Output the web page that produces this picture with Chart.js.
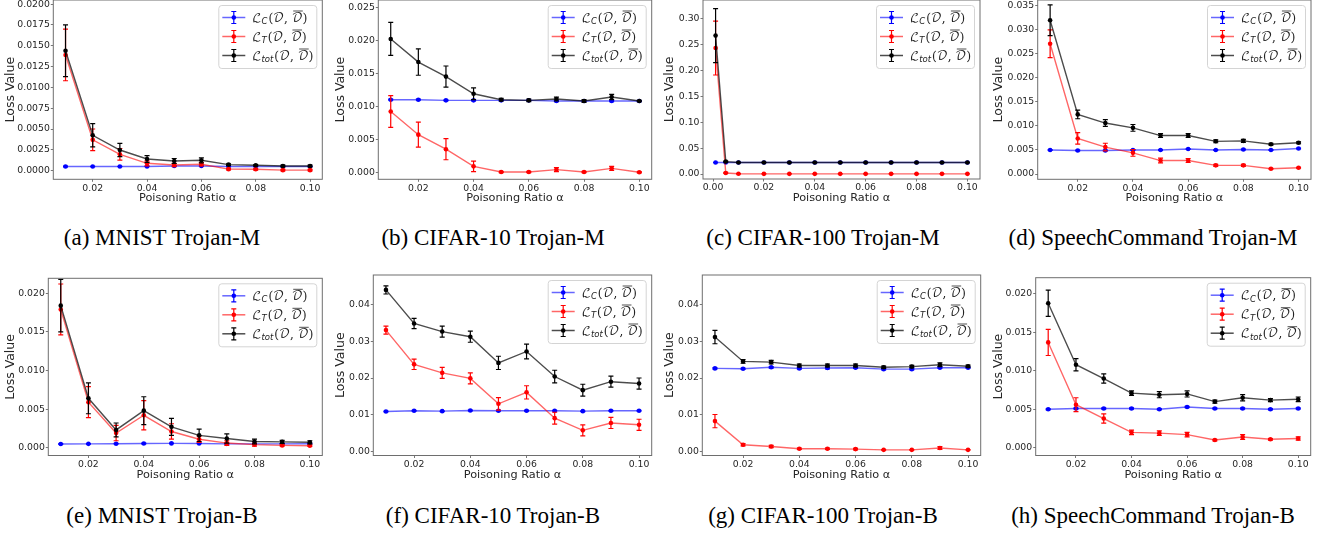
<!DOCTYPE html>
<html>
<head>
<meta charset="utf-8">
<script src="https://cdn.jsdelivr.net/npm/chart.js@4.4.1/dist/chart.umd.min.js"></script>
<style>
  html, body { margin: 0; padding: 0; background: #fff; }
  body { width: 1320px; height: 533px; position: relative; overflow: hidden; }
  canvas { position: absolute; }
  .cap {
    position: absolute;
    font-family: "Liberation Serif", "Times New Roman", serif;
    font-size: 23px;
    line-height: 1;
    white-space: nowrap;
    color: #000;
    transform: translate(-50%, -50%);
  }
</style>
</head>
<body>
<script>
// x values (poisoning ratio)
const ratios = [0.01, 0.02, 0.03, 0.04, 0.05, 0.06, 0.07, 0.08, 0.09, 0.10];
const ratiosC100 = [0.001, 0.005, 0.01, 0.02, 0.03, 0.04, 0.05, 0.06, 0.07, 0.08, 0.09, 0.10];

// tick labels
const xLabels = ["0.02", "0.04", "0.06", "0.08", "0.10"];
const xLabelsC100 = ["0.00", "0.02", "0.04", "0.06", "0.08", "0.10"];
const yLabelsMnistM = ["0.0000", "0.0025", "0.0050", "0.0075", "0.0100", "0.0125", "0.0150", "0.0175", "0.0200"];
const yLabelsC10M = ["0.000", "0.005", "0.010", "0.015", "0.020", "0.025"];
const yLabelsC100M = ["0.00", "0.05", "0.10", "0.15", "0.20", "0.25", "0.30"];
const yLabelsSpM = ["0.000", "0.005", "0.010", "0.015", "0.020", "0.025", "0.030", "0.035"];
const yLabelsMnistB = ["0.000", "0.005", "0.010", "0.015", "0.020"];
const yLabelsCifarB = ["0.00", "0.01", "0.02", "0.03", "0.04"];
const yLabelsSpB = ["0.000", "0.005", "0.010", "0.015", "0.020"];

// (a) MNIST Trojan-M
const mnM_C = [0.0005, 0.0005, 0.0005, 0.0005, 0.00055, 0.00055, 0.0005, 0.0005, 0.0005, 0.0005];
const mnM_Cerr = [0.00004, 0.00003, 0.00003, 0.00003, 0.00004, 0.00004, 0.00003, 0.00003, 0.00003, 0.00003];
const mnM_T = [0.0139, 0.0037, 0.00196, 0.00088, 0.00068, 0.00076, 0.00018, 0.00016, 0.00006, 0.00006];
const mnM_Terr = [0.0031, 0.0013, 0.0007, 0.0003, 0.0002, 0.0002, 0.0001, 0.0001, 0.0001, 0.0001];
const mnM_Tot = [0.0144, 0.00425, 0.00248, 0.0014, 0.00116, 0.00124, 0.00072, 0.00064, 0.00056, 0.00056];
const mnM_TotErr = [0.0031, 0.0014, 0.0008, 0.0004, 0.0003, 0.0003, 0.0001, 0.0001, 0.0001, 0.0001];

// (b) CIFAR-10 Trojan-M
const c10M_C = [0.0110, 0.0110, 0.0109, 0.0109, 0.0109, 0.0109, 0.0108, 0.0108, 0.0108, 0.0108];
const c10M_Cerr = [0.00008, 0.00008, 0.00008, 0.00008, 0.00008, 0.00008, 0.00008, 0.00008, 0.00008, 0.00008];
const c10M_T = [0.0092, 0.0057, 0.0035, 0.0009, 0.00005, 0.00005, 0.0004, 0.00005, 0.0006, 0.0];
const c10M_Terr = [0.0024, 0.0019, 0.0016, 0.0008, 0.0001, 0.0001, 0.0003, 0.0001, 0.0003, 0.0001];
const c10M_Tot = [0.0202, 0.0167, 0.0145, 0.0119, 0.0110, 0.0109, 0.0111, 0.0108, 0.0114, 0.0108];
const c10M_TotErr = [0.0025, 0.0020, 0.0016, 0.0009, 0.0002, 0.0002, 0.0003, 0.0002, 0.0004, 0.0001];

// (c) CIFAR-100 Trojan-M
const c100M_C = [0.0222, 0.0222, 0.0221, 0.0221, 0.0221, 0.0221, 0.0221, 0.0221, 0.0221, 0.0221, 0.0221, 0.0221];
const c100M_Cerr = [0.0005, 0.0005, 0.0004, 0.0004, 0.0004, 0.0004, 0.0004, 0.0004, 0.0004, 0.0004, 0.0004, 0.0004];
const c100M_T = [0.243, 0.002, 0.0004, 0.0003, 0.0003, 0.0003, 0.0003, 0.0003, 0.0003, 0.0003, 0.0003, 0.0003];
const c100M_Terr = [0.052, 0.001, 0.0003, 0.0002, 0.0002, 0.0002, 0.0002, 0.0002, 0.0002, 0.0002, 0.0002, 0.0002];
const c100M_Tot = [0.267, 0.024, 0.0222, 0.0222, 0.0222, 0.0222, 0.0222, 0.0222, 0.0222, 0.0222, 0.0222, 0.0222];
const c100M_TotErr = [0.052, 0.001, 0.0004, 0.0004, 0.0004, 0.0004, 0.0004, 0.0004, 0.0004, 0.0004, 0.0004, 0.0004];

// (d) SpeechCommand Trojan-M
const spM_C = [0.0050, 0.0049, 0.0049, 0.0050, 0.0050, 0.0052, 0.0050, 0.0051, 0.0050, 0.0053];
const spM_Cerr = [0.00008, 0.00008, 0.00008, 0.00008, 0.00008, 0.00008, 0.00008, 0.00008, 0.00008, 0.00008];
const spM_T = [0.0271, 0.0074, 0.0056, 0.0044, 0.0028, 0.0028, 0.0018, 0.0018, 0.0011, 0.0013];
const spM_Terr = [0.0029, 0.0012, 0.0008, 0.0007, 0.0005, 0.0004, 0.0002, 0.0002, 0.0001, 0.0001];
const spM_Tot = [0.0320, 0.0124, 0.0106, 0.0096, 0.0080, 0.0080, 0.0068, 0.0069, 0.0062, 0.0065];
const spM_TotErr = [0.0032, 0.0009, 0.0007, 0.0007, 0.0004, 0.0004, 0.0003, 0.0003, 0.0002, 0.0002];

// (e) MNIST Trojan-B
const mnB_C = [0.00048, 0.0005, 0.00052, 0.00054, 0.00056, 0.00055, 0.0005, 0.0005, 0.0005, 0.00052];
const mnB_Cerr = [0.00004, 0.00004, 0.00004, 0.00004, 0.00004, 0.00004, 0.00004, 0.00004, 0.00004, 0.00004];
const mnB_T = [0.0179, 0.0059, 0.0019, 0.0042, 0.0021, 0.0011, 0.0006, 0.0004, 0.0003, 0.00026];
const mnB_Terr = [0.0033, 0.0020, 0.0010, 0.0019, 0.0010, 0.0004, 0.0003, 0.0002, 0.0001, 0.0001];
const mnB_Tot = [0.0184, 0.0064, 0.0023, 0.0048, 0.0027, 0.0016, 0.0012, 0.0008, 0.00075, 0.0007];
const mnB_TotErr = [0.0034, 0.0020, 0.0009, 0.0018, 0.0011, 0.0008, 0.0006, 0.0003, 0.0002, 0.0002];

// (f) CIFAR-10 Trojan-B
const c10B_C = [0.0109, 0.0111, 0.0110, 0.0112, 0.0111, 0.0111, 0.0111, 0.0110, 0.0111, 0.0111];
const c10B_Cerr = [0.0001, 0.0001, 0.0001, 0.0001, 0.0001, 0.0001, 0.0001, 0.0001, 0.0001, 0.0001];
const c10B_T = [0.0330, 0.0237, 0.0214, 0.0199, 0.0130, 0.0161, 0.0091, 0.0058, 0.0078, 0.0073];
const c10B_Terr = [0.0011, 0.0014, 0.0015, 0.0015, 0.0017, 0.0018, 0.0016, 0.0015, 0.0015, 0.0015];
const c10B_Tot = [0.0439, 0.0348, 0.0326, 0.0312, 0.0241, 0.0272, 0.0204, 0.0167, 0.0190, 0.0185];
const c10B_TotErr = [0.0011, 0.0014, 0.0015, 0.0015, 0.0018, 0.0020, 0.0017, 0.0016, 0.0015, 0.0015];

// (g) CIFAR-100 Trojan-B
const c100B_C = [0.0226, 0.0225, 0.0229, 0.0226, 0.0227, 0.0228, 0.0224, 0.0224, 0.0228, 0.0228];
const c100B_Cerr = [0.0002, 0.0002, 0.0002, 0.0002, 0.0002, 0.0002, 0.0002, 0.0002, 0.0002, 0.0002];
const c100B_T = [0.0083, 0.0019, 0.0014, 0.0008, 0.0008, 0.0007, 0.0005, 0.0005, 0.0010, 0.0005];
const c100B_Terr = [0.0018, 0.0003, 0.0003, 0.0002, 0.0002, 0.0002, 0.0001, 0.0001, 0.0004, 0.0001];
const c100B_Tot = [0.0311, 0.0245, 0.0243, 0.0234, 0.0234, 0.0234, 0.0229, 0.0231, 0.0236, 0.0232];
const c100B_TotErr = [0.0018, 0.0005, 0.0005, 0.0004, 0.0004, 0.0004, 0.0003, 0.0003, 0.0005, 0.0003];

// (h) SpeechCommand Trojan-B
const spB_C = [0.0050, 0.0051, 0.0051, 0.0051, 0.0050, 0.0053, 0.0051, 0.0051, 0.0050, 0.0051];
const spB_Cerr = [0.00008, 0.00008, 0.00008, 0.00008, 0.00008, 0.00008, 0.00008, 0.00008, 0.00008, 0.00008];
const spB_T = [0.0137, 0.0056, 0.0038, 0.0020, 0.0019, 0.0017, 0.0010, 0.0014, 0.0011, 0.0012];
const spB_Terr = [0.0017, 0.0009, 0.0006, 0.0003, 0.0003, 0.0003, 0.0001, 0.0003, 0.0001, 0.0002];
const spB_Tot = [0.0188, 0.0108, 0.0090, 0.0071, 0.0069, 0.0070, 0.0060, 0.0065, 0.0062, 0.0063];
const spB_TotErr = [0.0017, 0.0008, 0.0006, 0.0003, 0.0004, 0.0004, 0.0002, 0.0004, 0.0002, 0.0003];

// panels: where each plot box sits on the page
const panels = [
  { cap: "(a) MNIST Trojan-M", capX: 162, capY: 237, box: [53.3, 0, 322.3, 179.3], ylabX: 10,
    x: ratios, xl: xLabels, xr: [0.0055, 0.1045], yl: yLabelsMnistM, yr: [-0.00104, 0.0205],
    s: [[mnM_C, mnM_Cerr], [mnM_T, mnM_Terr], [mnM_Tot, mnM_TotErr]] },
  { cap: "(b) CIFAR-10 Trojan-M", capX: 493, capY: 237, box: [378.3, 0, 651.7, 179.3], ylabX: 340,
    x: ratios, xl: xLabels, xr: [0.0055, 0.1045], yl: yLabelsC10M, yr: [-0.00106, 0.0261],
    s: [[c10M_C, c10M_Cerr], [c10M_T, c10M_Terr], [c10M_Tot, c10M_TotErr]] },
  { cap: "(c) CIFAR-100 Trojan-M", capX: 823, capY: 237, box: [703, 0, 980, 179], ylabX: 669,
    x: ratiosC100, xl: xLabelsC100, xr: [-0.00395, 0.10495], yl: yLabelsC100M, yr: [-0.0096, 0.3357],
    s: [[c100M_C, c100M_Cerr], [c100M_T, c100M_Terr], [c100M_Tot, c100M_TotErr]] },
  { cap: "(d) SpeechCommand Trojan-M", capX: 1153, capY: 237, box: [1037.7, 0, 1311, 179.3], ylabX: 998,
    x: ratios, xl: xLabels, xr: [0.0055, 0.1045], yl: yLabelsSpM, yr: [-0.0011, 0.0362],
    s: [[spM_C, spM_Cerr], [spM_T, spM_Terr], [spM_Tot, spM_TotErr]] },
  { cap: "(e) MNIST Trojan-B", capX: 162, capY: 515, box: [48.3, 278.3, 322.3, 455.5], ylabX: 10,
    x: ratios, xl: xLabels, xr: [0.0055, 0.1045], yl: yLabelsMnistB, yr: [-0.00101, 0.02194],
    s: [[mnB_C, mnB_Cerr], [mnB_T, mnB_Terr], [mnB_Tot, mnB_TotErr]] },
  { cap: "(f) CIFAR-10 Trojan-B", capX: 493, capY: 515, box: [373.3, 275, 651.7, 455.5], ylabX: 340,
    x: ratios, xl: xLabels, xr: [0.0055, 0.1045], yl: yLabelsCifarB, yr: [-0.00103, 0.04795],
    s: [[c10B_C, c10B_Cerr], [c10B_T, c10B_Terr], [c10B_Tot, c10B_TotErr]] },
  { cap: "(g) CIFAR-100 Trojan-B", capX: 823, capY: 515, box: [702.3, 275, 980.7, 455.5], ylabX: 669.5,
    x: ratios, xl: xLabels, xr: [0.0055, 0.1045], yl: yLabelsCifarB, yr: [-0.00103, 0.04795],
    s: [[c100B_C, c100B_Cerr], [c100B_T, c100B_Terr], [c100B_Tot, c100B_TotErr]] },
  { cap: "(h) SpeechCommand Trojan-B", capX: 1153, capY: 515, box: [1035.7, 277.7, 1310.7, 455.5], ylabX: 998.7,
    x: ratios, xl: xLabels, xr: [0.0055, 0.1045], yl: yLabelsSpB, yr: [-0.00101, 0.02212],
    s: [[spB_C, spB_Cerr], [spB_T, spB_Terr], [spB_Tot, spB_TotErr]] },
];

const seriesStyle = [
  { color: "#0000ff", line: "rgba(0,0,255,0.6)", sub: "C" },
  { color: "#ff0000", line: "rgba(255,0,0,0.6)", sub: "T" },
  { color: "#000000", line: "rgba(0,0,0,0.7)", sub: "tot" },
];

const SANS = '"DejaVu Sans", sans-serif';
const MATH = '"DejaVu Math TeX Gyre", "DejaVu Serif", "DejaVu Sans", serif';

// error bars, drawn just under each dataset's line and markers
const errorBars = {
  id: "errorBars",
  beforeDatasetDraw(chart, args) {
    const ds = chart.data.datasets[args.index];
    const yScale = chart.scales.y;
    const ctx = chart.ctx;
    ctx.save();
    ctx.strokeStyle = ds.pointBackgroundColor;
    ctx.lineWidth = 1.2;
    args.meta.data.forEach((pt, i) => {
      const v = ds.data[i].y, e = ds.errors[i];
      const y1 = yScale.getPixelForValue(v + e);
      const y2 = yScale.getPixelForValue(v - e);
      ctx.beginPath();
      ctx.moveTo(pt.x, y1); ctx.lineTo(pt.x, y2);
      ctx.moveTo(pt.x - 2.5, y1); ctx.lineTo(pt.x + 2.5, y1);
      ctx.moveTo(pt.x - 2.5, y2); ctx.lineTo(pt.x + 2.5, y2);
      ctx.stroke();
    });
    ctx.restore();
  },
};

function drawLegend(ctx, area) {
  const w = 98, h = 63;
  const x0 = area.right - 6 - w, y0 = area.top + 5;
  ctx.save();
  ctx.fillStyle = "rgba(255,255,255,0.85)";
  ctx.strokeStyle = "#d4d4d4";
  ctx.lineWidth = 1;
  ctx.beginPath();
  ctx.roundRect(x0 + 0.5, y0 + 0.5, w, h, 3);
  ctx.fill();
  ctx.stroke();

  seriesStyle.forEach((st, i) => {
    const cy = y0 + 12.5 + i * 19;
    const mx = x0 + 15.5;
    ctx.strokeStyle = st.line;
    ctx.lineWidth = 1.5;
    ctx.beginPath(); ctx.moveTo(x0 + 4, cy); ctx.lineTo(x0 + 27, cy); ctx.stroke();
    ctx.strokeStyle = st.color;
    ctx.lineWidth = 1.2;
    ctx.beginPath();
    ctx.moveTo(mx, cy - 6); ctx.lineTo(mx, cy + 6);
    ctx.moveTo(mx - 2.5, cy - 6); ctx.lineTo(mx + 2.5, cy - 6);
    ctx.moveTo(mx - 2.5, cy + 6); ctx.lineTo(mx + 2.5, cy + 6);
    ctx.stroke();
    ctx.fillStyle = st.color;
    ctx.beginPath(); ctx.arc(mx, cy, 2.3, 0, Math.PI * 2); ctx.fill();

    // ℒ_sub(𝒟, 𝒟̄)
    ctx.fillStyle = "#222";
    ctx.textBaseline = "alphabetic";
    const base = cy + 4;
    let x = x0 + 34;
    ctx.font = "12px " + MATH;
    ctx.fillText("ℒ", x, base); x += ctx.measureText("ℒ").width;
    ctx.font = "italic 8.5px " + SANS;
    ctx.fillText(st.sub, x, base + 2.5); x += ctx.measureText(st.sub).width + 0.5;
    ctx.font = "12px " + MATH;
    ctx.fillText("(𝒟, ", x, base); x += ctx.measureText("(𝒟, ").width;
    const wd = ctx.measureText("𝒟").width;
    ctx.fillText("𝒟", x, base);
    ctx.strokeStyle = "#222"; ctx.lineWidth = 0.8;
    ctx.beginPath(); ctx.moveTo(x + 1.5, base - 10.5); ctx.lineTo(x + wd, base - 10.5); ctx.stroke();
    x += wd;
    ctx.fillText(")", x, base);
  });
  ctx.restore();
}

const frameAndLegend = {
  id: "frameAndLegend",
  afterDatasetsDraw(chart) {
    const a = chart.chartArea, ctx = chart.ctx;
    ctx.save();
    ctx.strokeStyle = "#6e6e6e";
    ctx.lineWidth = 1;
    ctx.strokeRect(a.left, a.top, a.right - a.left, a.bottom - a.top);
    ctx.restore();
    drawLegend(ctx, a);
  },
};

panels.forEach((p) => {
  const [L, T, R, B] = p.box;
  const left = Math.round(p.ylabX - 7.5);
  const top = Math.floor(T - 8);
  const cw = Math.ceil(R - left + 4);
  const ch = Math.round(B + 26 - top);

  const cv = document.createElement("canvas");
  cv.width = cw; cv.height = ch;
  cv.style.left = left + "px"; cv.style.top = top + "px";
  cv.style.width = cw + "px"; cv.style.height = ch + "px";
  document.body.appendChild(cv);

  const cap = document.createElement("div");
  cap.className = "cap";
  cap.textContent = p.cap;
  cap.style.left = p.capX + "px";
  cap.style.top = p.capY + "px";
  document.body.appendChild(cap);

  const xVals = p.xl.map(Number);
  const yVals = p.yl.map(Number);

  const datasets = p.s.map(([vals, errs], k) => ({
    data: p.x.map((x, i) => ({ x: x, y: vals[i] })),
    errors: errs,
    borderColor: seriesStyle[k].line,
    borderWidth: 1.4,
    pointBackgroundColor: seriesStyle[k].color,
    pointBorderWidth: 0,
    pointRadius: 2.3,
    pointHoverRadius: 2.3,
    tension: 0,
    order: 3 - k,
  }));

  new Chart(cv, {
    type: "line",
    data: { datasets },
    plugins: [errorBars, frameAndLegend],
    options: {
      responsive: false,
      animation: false,
      devicePixelRatio: 1,
      events: [],
      layout: { padding: { left: 0, top: T - top, right: cw - (R - left), bottom: 0 } },
      plugins: { legend: { display: false }, tooltip: { enabled: false } },
      scales: {
        x: {
          type: "linear",
          min: p.xr[0], max: p.xr[1],
          afterBuildTicks: (s) => { s.ticks = xVals.map((v) => ({ value: v })); },
          afterFit: (s) => { s.height = ch - (B - top); },
          ticks: {
            autoSkip: false, maxRotation: 0, padding: 1,
            color: "#262626", font: { family: SANS, size: 9.3 },
            callback: (v, i) => p.xl[i],
          },
          grid: { display: true, drawOnChartArea: false, drawTicks: true, tickLength: 2.5, color: "#555", lineWidth: 0.8 },
          border: { display: false },
          title: { display: true, text: "Poisoning Ratio α", color: "#262626", padding: 0, font: { family: SANS, size: 11.3 } },
        },
        y: {
          type: "linear",
          min: p.yr[0], max: p.yr[1],
          afterBuildTicks: (s) => { s.ticks = yVals.map((v) => ({ value: v })); },
          afterFit: (s) => { s.width = L - left; },
          ticks: {
            padding: 1,
            color: "#262626", font: { family: SANS, size: 9.3 },
            callback: (v, i) => p.yl[i],
          },
          grid: { display: true, drawOnChartArea: false, drawTicks: true, tickLength: 2.5, color: "#555", lineWidth: 0.8 },
          border: { display: false },
          title: { display: true, text: "Loss Value", color: "#262626", padding: 0, font: { family: SANS, size: 12.5 } },
        },
      },
    },
  });
});
</script>
</body>
</html>
